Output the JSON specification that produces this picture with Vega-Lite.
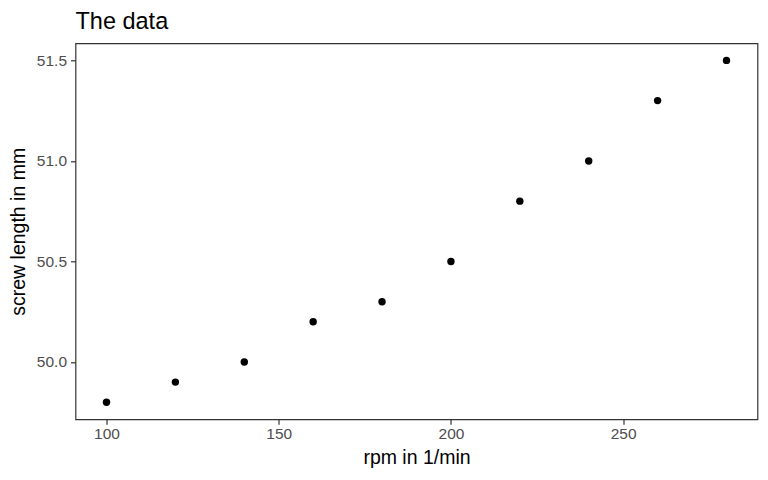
{
  "$schema": "https://vega.github.io/schema/vega-lite/v6.json",
  "width": 682,
  "height": 376,
  "autosize": {"type": "none"},
  "padding": {"left": 75.5, "top": 43.3, "right": 10, "bottom": 61},
  "background": "white",
  "config": {
    "font": "Liberation Sans",
    "view": {"stroke": "#333333", "strokeWidth": 1.2},
    "axis": {
      "grid": false,
      "domain": false,
      "tickColor": "#333333",
      "tickSize": 5,
      "tickWidth": 1.2,
      "labelColor": "#4D4D4D",
      "labelFontSize": 15.5,
      "labelFont": "Liberation Sans",
      "titleFont": "Liberation Sans",
      "titleFontSize": 19.5,
      "titleFontWeight": "normal",
      "titleColor": "black"
    }
  },
  "title": {
    "text": "The data",
    "anchor": "start",
    "frame": "group",
    "fontSize": 23.5,
    "fontWeight": "normal",
    "font": "Liberation Sans",
    "color": "black",
    "offset": 10
  },
  "data": {
    "values": [
      {"rpm": 100, "length": 49.8},
      {"rpm": 120, "length": 49.9},
      {"rpm": 140, "length": 50.0},
      {"rpm": 160, "length": 50.2},
      {"rpm": 180, "length": 50.3},
      {"rpm": 200, "length": 50.5},
      {"rpm": 220, "length": 50.8},
      {"rpm": 240, "length": 51.0},
      {"rpm": 260, "length": 51.3},
      {"rpm": 280, "length": 51.5}
    ]
  },
  "mark": {"type": "point", "filled": true, "color": "black", "opacity": 1, "size": 55},
  "encoding": {
    "x": {
      "field": "rpm",
      "type": "quantitative",
      "title": "rpm in 1/min",
      "scale": {"domain": [91, 289], "nice": false, "zero": false},
      "axis": {"values": [100, 150, 200, 250], "labelPadding": 2, "titlePadding": 7}
    },
    "y": {
      "field": "length",
      "type": "quantitative",
      "title": "screw length in mm",
      "scale": {"domain": [49.715, 51.585], "nice": false, "zero": false},
      "axis": {"values": [50.0, 50.5, 51.0, 51.5], "format": ".1f", "labelPadding": 4, "titlePadding": 8}
    }
  }
}
